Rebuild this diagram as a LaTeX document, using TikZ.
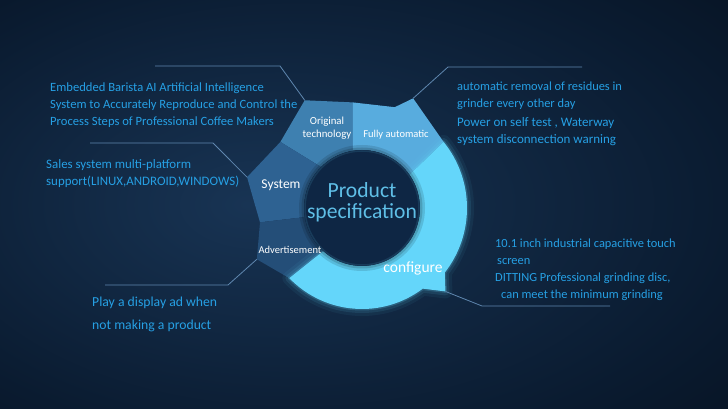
\documentclass[tikz,border=0pt]{standalone}
\usepackage{fontspec}
\setmainfont{Carlito}
\usetikzlibrary{positioning}

\definecolor{bgmid}{RGB}{24,52,84}
\definecolor{bgdark}{RGB}{10,27,48}
\definecolor{bgedge}{RGB}{2,6,12}
\definecolor{origc}{RGB}{62,128,176}
\definecolor{fullc}{RGB}{88,172,222}
\definecolor{cfgc}{RGB}{100,214,250}
\definecolor{sysc}{RGB}{46,98,146}
\definecolor{advc}{RGB}{36,78,120}
\definecolor{innerc}{RGB}{14,38,68}
\definecolor{linec}{RGB}{95,135,175}
\definecolor{txtc}{RGB}{38,160,228}
\definecolor{titlec}{RGB}{95,190,230}

\pgfdeclareradialshading{bgglow}{\pgfpoint{-8bp}{0bp}}{color(0bp)=(bgmid); color(30bp)=(bgdark); color(60bp)=(bgedge)}

% outline of the configure segment, drawn around (C)
\newcommand{\cfgshape}{(228:58) -- (224:101) arc[start angle=224,end angle=307,radius=101]
	-- (315:118) -- (322:105) arc[start angle=322,end angle=399,radius=105]
	-- (395:58) arc[start angle=395,end angle=228,radius=58] -- cycle}

\begin{document}
\begin{tikzpicture}[x=1pt,y=1pt,
										leader/.style={draw=linec,line width=0.8pt},
										desc/.style={text=txtc,align=left,anchor=north west,inner sep=0pt,font=\fontsize{12.6}{16.5}\selectfont},
										seglabel/.style={text=white,align=center,inner sep=0pt,font=\fontsize{10.5}{12.5}\selectfont}
										]
	\shade[shading=bgglow] (0,0) rectangle (728,409);
	\coordinate (C) at (362,201);

	\begin{scope}[shift={(C)}]
		% ring segments
		\fill[origc] (99:58) -- (95:106) -- (118:122) -- (141:105) -- (135:58) arc[start angle=135,end angle=99,radius=58] -- cycle;
		\fill[fullc] (35:58) -- (39:105) -- (65:121) -- (72:106) -- (95:106) -- (99:58) arc[start angle=99,end angle=35,radius=58] -- cycle;
		\fill[sysc] (135:58) -- (141:105) -- (165:119) -- (188:103) -- (189:58) arc[start angle=189,end angle=135,radius=58] -- cycle;
		\fill[advc] (189:58) -- (188:103) -- (206:117) -- (224:101) -- (228:58) arc[start angle=228,end angle=189,radius=58] -- cycle;
		\draw[cfgc,line width=14pt,opacity=0.06,line join=round] \cfgshape;
		\draw[cfgc,line width=8pt,opacity=0.1,line join=round] \cfgshape;
		\draw[cfgc,line width=3pt,opacity=0.2,line join=round] \cfgshape;
		\fill[cfgc] \cfgshape;
		% centre
		\draw[black,line width=6pt,opacity=0.12] (0,0) circle (60);
		\draw[black,line width=3pt,opacity=0.15] (0,0) circle (59);
		\fill[innerc] (0,0) circle (58);
		\draw[cfgc,line width=1.5pt,opacity=0.12] (0,0) circle (57);

		\coordinate (otTab) at (118:122);
		\coordinate (faTab) at (65:121);
		\coordinate (syTab) at (165:119);
		\coordinate (adTab) at (206:117);
		\coordinate (cfTab) at (315:118);
	\end{scope}

	\node[text=titlec,align=center,font=\fontsize{21.6}{21}\selectfont] (prod) at (362,207) {Product\\specification};
	\node[seglabel,font=\fontsize{10.8}{12.5}\selectfont] (ot) at (327,281) {Original\\technology};
	\node[seglabel] (fa) at (396,274) {Fully automatic};
	\node[seglabel,font=\fontsize{13.5}{15}\selectfont] (sy) at (281,224) {System};
	\node[seglabel] (ad) at (290,159) {Advertisement};
	\node[seglabel,font=\fontsize{15.5}{17}\selectfont] (cf) at (413,141) {configure};

	% leader lines
	\coordinate (otKnee) at (280,343);
	\coordinate (otEnd) at (155,343);
	\coordinate (faKnee) at (448,342);
	\coordinate (faEnd) at (582,342);
	\coordinate (syKnee) at (213,266);
	\coordinate (syEnd) at (90,266);
	\coordinate (adKnee) at (228,124);
	\coordinate (adEnd) at (105,124);
	\coordinate (cfKnee) at (482,103);
	\coordinate (cfEnd) at (610,103);
	\draw[leader] (otTab) -- (otKnee) -- (otEnd);
	\draw[leader] (faTab) -- (faKnee) -- (faEnd);
	\draw[leader] (syTab) -- (syKnee) -- (syEnd);
	\draw[leader] (adTab) -- (adKnee) -- (adEnd);
	\draw[leader] (cfTab) -- (cfKnee) -- (cfEnd);

	% descriptions
	\node[desc,font=\fontsize{12.6}{17}\selectfont] (otTxt) at (50,326) {Embedded Barista AI Artificial Intelligence\\System to Accurately Reproduce and Control the\\Process Steps of Professional Coffee Makers};
	\node[desc,font=\fontsize{12.9}{17}\selectfont] (syTxt) at (46,250) {Sales system multi-platform\\support(LINUX,ANDROID,WINDOWS)};
	\node[desc,font=\fontsize{12.4}{16.5}\selectfont] (faTxt) at (457,327) {automatic removal of residues in\\grinder every other day};
	\node[desc,font=\fontsize{13}{17}\selectfont,below right=8pt and 0pt of faTxt.south west] (pwTxt) {Power on self test , Waterway\\system disconnection warning};
	\node[desc,font=\fontsize{12.4}{17}\selectfont] (cfTxt) at (495,170) {10.1 inch industrial capacitive touch\\\hspace{2pt}screen\\DITTING Professional grinding disc,\\\hspace{6pt}can meet the minimum grinding};
	\node[desc,font=\fontsize{13.7}{23}\selectfont] (adTxt) at (92,112) {Play a display ad when\\not making a product};
\end{tikzpicture}
\end{document}
